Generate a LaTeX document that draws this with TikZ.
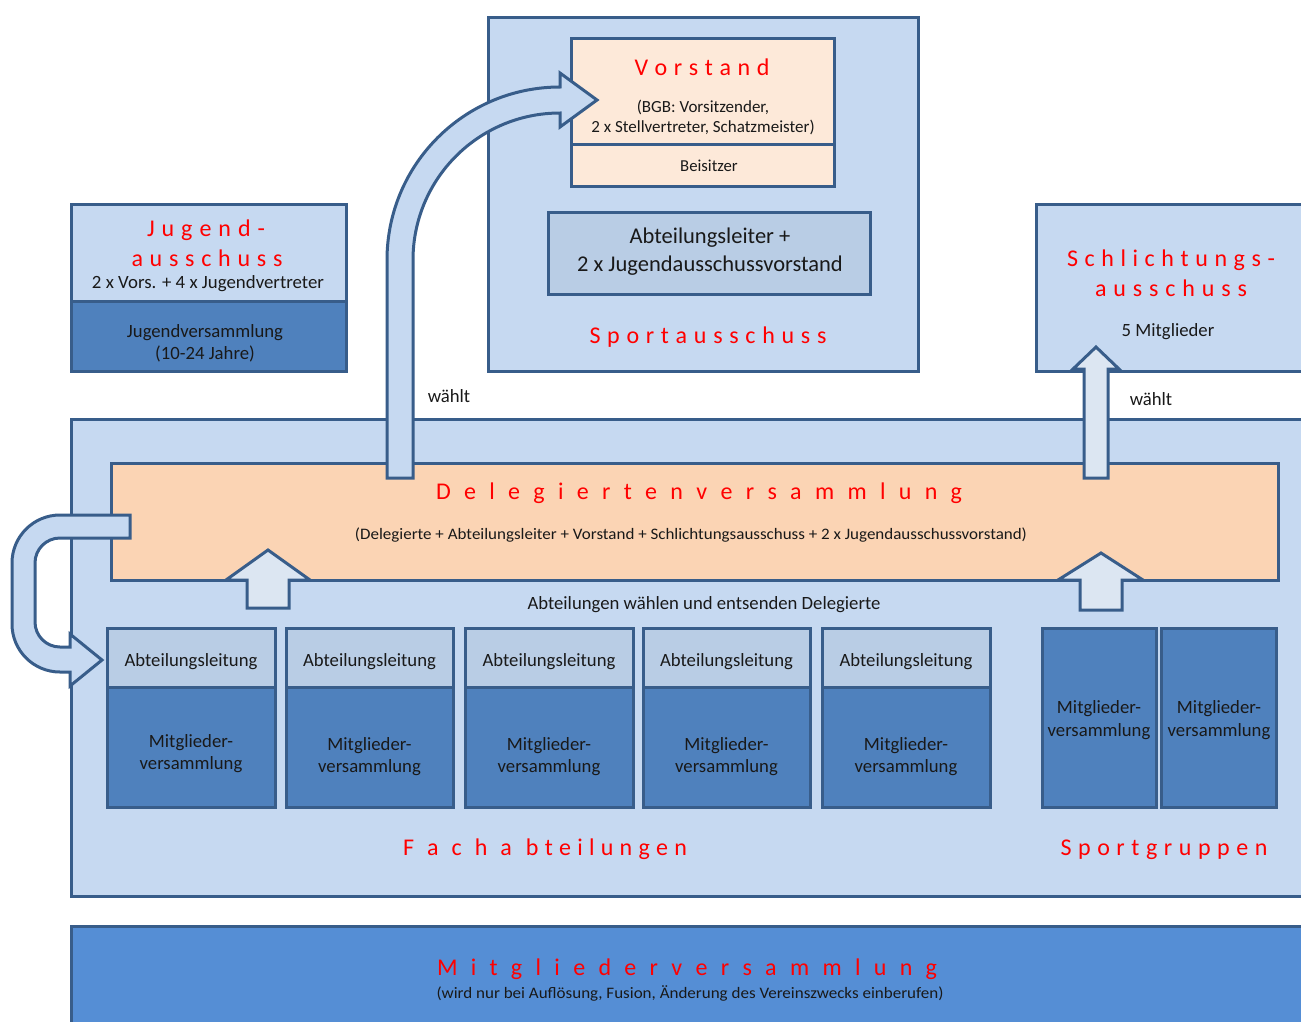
\documentclass[tikz,border=0pt]{standalone}
\usepackage{fontspec}
\usepackage{graphicx}
\setmainfont{Carlito}
\usetikzlibrary{fit}
\definecolor{bord}{RGB}{56,93,138}
\definecolor{lb}{RGB}{198,217,241}
\definecolor{mb}{RGB}{185,205,229}
\definecolor{db}{RGB}{79,129,189}
\definecolor{pe}{RGB}{251,212,180}
\definecolor{pl}{RGB}{253,233,217}
\definecolor{mvb}{RGB}{85,142,213}
\definecolor{al}{RGB}{220,230,242}
\definecolor{rd}{RGB}{255,0,0}
\definecolor{tx}{RGB}{25,25,25}
\newcommand{\spreadtxt}[2]{\makebox[#1][s]{#2}}
\newcommand{\fitw}[2]{\resizebox{#1}{\height}{#2}}
\tikzset{
  box/.style={draw=bord, line width=3pt, inner sep=0pt, outer sep=0pt},
  txt/.style={font=\fontsize{18.7}{22}\selectfont, text=tx, inner sep=0pt, anchor=base},
  ttl/.style={font=\fontsize{24}{28}\selectfont, text=rd, inner sep=0pt, anchor=base},
  blockarrow/.style={draw=bord, line width=3pt},
}
\begin{document}
\begin{tikzpicture}[x=1pt,y=-1pt]
\useasboundingbox (0,0) rectangle (1301,1021);
\clip (0,0) rectangle (1301,1021);
\fill[white] (0,0) rectangle (1301,1021);
% boxes
\node[box, fill=lb, fit={(488,17)(918,371)}] (spa) {};
\node[box, fill=pl, fit={(571,38)(834,144)}] (vor) {};
\node[box, fill=pl, fit={(571,144)(834,186)}] (bei) {};
\node[box, fill=mb, fit={(548,212)(870,294)}] (abl) {};
\node[box, fill=lb, fit={(71,204)(346,301)}] (jug) {};
\node[box, fill=db, fit={(71,301)(346,371)}] (jv) {};
\node[box, fill=lb, fit={(1036,204)(1330,371)}] (sch) {};
\node[box, fill=lb, fit={(71,419)(1330,896)}] (fach) {};
\node[box, fill=pe, fit={(111,463)(1278,580)}] (del) {};
\foreach \i/\a/\b/\ya/\yb in {1/107/275/747/769, 2/286/453/750/772, 3/465/633/750/772, 4/643/810/750/772, 5/822/990/750/772}{
  \pgfmathsetmacro\cx{(\a+\b)/2}
  \node[box, fill=mb, fit={(\a,628)(\b,687)}] (al\i) {};
  \node[box, fill=db, fit={(\a,687)(\b,807)}] (mg\i) {};
  \node[txt] (tal\i) at (\cx,666) {Abteilungsleitung};
  \node[txt] (tmga\i) at (\cx,\ya) {Mitglieder-};
  \node[txt] (tmgb\i) at (\cx,\yb) {versammlung};
}
\node[box, fill=db, fit={(1042,628)(1156,807)}] (sg1) {};
\node[box, fill=db, fit={(1161,628)(1276,807)}] (sg2) {};
\node[box, fill=mvb, fit={(71,926)(1330,1040)}] (mv) {};
% block arrows
\draw[blockarrow, fill=lb] (387,478) -- (387,260) arc[start angle=180, end angle=270, radius=173]
  -- (560,73) -- (597,100) -- (560,127) -- (560,113)
  arc[start angle=270, end angle=180, radius=147] -- (413,478) -- cycle;
\draw[blockarrow, fill=al] (1084,478) -- (1084,369) -- (1073,369) -- (1096,347) -- (1119,369) -- (1108,369) -- (1108,478) -- cycle;
\draw[blockarrow, fill=al] (247,608) -- (247,580) -- (226,580) -- (268,550) -- (310,580) -- (289,580) -- (289,608) -- cycle;
\draw[blockarrow, fill=al] (1080,610) -- (1080,580) -- (1058,580) -- (1101,553) -- (1143,580) -- (1122,580) -- (1122,610) -- cycle;
\draw[blockarrow, fill=lb] (130,515) -- (60,515) arc[start angle=270, end angle=180, radius=48]
  -- (12,624) arc[start angle=180, end angle=90, radius=48]
  -- (70,672) -- (70,686) -- (102,660) -- (70,634) -- (70,647) -- (60,647)
  arc[start angle=90, end angle=180, radius=25] -- (35,563)
  arc[start angle=180, end angle=270, radius=25] -- (130,538) -- cycle;
% texts
\node[ttl] (tvor) at (702,75) {\spreadtxt{135pt}{V o r s t a n d}};
\node[txt, font=\fontsize{17}{20}\selectfont] (tbgb1) at (703,112) {(BGB: Vorsitzender,};
\node[txt, font=\fontsize{17}{20}\selectfont] (tbgb2) at (703,132) {2 x Stellvertreter, Schatzmeister)};
\node[txt, font=\fontsize{16.7}{20}\selectfont] (tbei) at (709,171) {Beisitzer};
\node[txt, font=\fontsize{22.5}{26}\selectfont] (tabl1) at (710,243) {Abteilungsleiter +};
\node[txt, font=\fontsize{22.5}{26}\selectfont] (tabl2) at (710,271) {2 x Jugendausschussvorstand};
\node[ttl] (tspa) at (708,343) {\spreadtxt{237pt}{S p o r t a u s s c h u s s}};
\node[ttl] (tjug1) at (206,236) {\spreadtxt{118pt}{J u g e n d -}};
\node[ttl] (tjug2) at (207,266) {\spreadtxt{151pt}{a u s s c h u s s}};
\node[txt] (tjug3) at (208,288) {\fitw{232pt}{2 x Vors. + 4 x Jugendvertreter}};
\node[txt] (tjv1) at (205,337) {Jugendversammlung};
\node[txt] (tjv2) at (205,359) {(10-24 Jahre)};
\node[ttl] (tsch1) at (1171,266) {\spreadtxt{208pt}{S c h l i c h t u n g s -}};
\node[ttl] (tsch2) at (1171,296) {\spreadtxt{152pt}{a u s s c h u s s}};
\node[txt] (tsch3) at (1168,336) {5 Mitglieder};
\node[txt] (tw1) at (449,402) {wählt};
\node[txt] (tw2) at (1151,405) {wählt};
\node[ttl] (tdel) at (699,499) {\spreadtxt{526pt}{D e l e g i e r t e n v e r s a m m l u n g}};
\node[txt, font=\fontsize{16}{19}\selectfont] (tdel2) at (691,539) {\fitw{672pt}{(Delegierte + Abteilungsleiter + Vorstand + Schlichtungsausschuss + 2 x Jugendausschussvorstand)}};
\node[txt] (tawe) at (704,609) {Abteilungen wählen und entsenden Delegierte};
\node[txt] (tsga1) at (1099,713) {Mitglieder-};
\node[txt] (tsgb1) at (1099,736) {versammlung};
\node[txt] (tsga2) at (1219,713) {Mitglieder-};
\node[txt] (tsgb2) at (1219,736) {versammlung};
\node[ttl] (tfach) at (545,855) {\spreadtxt{109pt}{F a c h a}\hspace{14pt}\spreadtxt{161pt}{b t e i l u n g e n}};
\node[ttl] (tsg) at (1164,855) {\spreadtxt{207pt}{S p o r t g r u p p e n}};
\node[ttl] (tmv) at (687,975) {\spreadtxt{500pt}{M i t g l i e d e r v e r s a m m l u n g}};
\node[txt, font=\fontsize{16}{19}\selectfont] (tmv2) at (690,998) {\fitw{507pt}{(wird nur bei Auflösung, Fusion, Änderung des Vereinszwecks einberufen)}};
\end{tikzpicture}
\end{document}
